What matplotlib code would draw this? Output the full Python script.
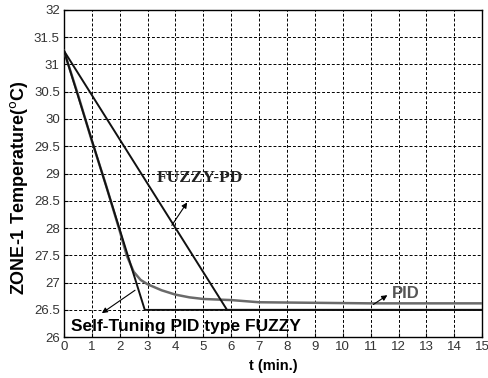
import numpy as np
import matplotlib
matplotlib.use('Agg')
from matplotlib import pyplot as plt

# zone-1 temperature responses (time in minutes, temperature in deg C)
t_stpf = [0, 2.9, 15]
T_stpf = [31.25, 26.5, 26.5]

t_fpd = [0, 5.85, 15]
T_fpd = [31.25, 26.5, 26.5]

t_pid = [0, 0.5, 1, 1.5, 2, 2.25, 2.5, 2.75, 3, 3.5, 4, 4.5, 5, 6, 7, 9, 11, 13, 15]
T_pid = [31.25, 30.45, 29.6, 28.8, 27.95, 27.5, 27.2, 27.05, 26.97, 26.86, 26.78,
         26.73, 26.70, 26.68, 26.64, 26.63, 26.62, 26.62, 26.62]

xticks = np.arange(0, 16, 1)
yticks = np.arange(26, 32.5, 0.5)

sans = ['Liberation Sans', 'DejaVu Sans']
serif = ['Liberation Serif', 'DejaVu Serif']

fig = plt.figure(figsize=(4.88, 3.78), dpi=100)
ax = fig.add_axes([0.131, 0.108, 0.857, 0.866])

ax.plot(t_pid, T_pid, color='#6a6a6a', lw=1.8, zorder=3)
ax.plot(t_fpd, T_fpd, color='#111111', lw=1.4, zorder=4)
ax.plot(t_stpf, T_stpf, color='#111111', lw=1.4, zorder=5)

ax.set_xlim(0, 15)
ax.set_ylim(26, 32)
ax.set_xticks(xticks)
ax.set_yticks(yticks)
ax.set_xticklabels([str(v) for v in xticks], family=sans, fontsize=9.5, color='#333333')
ax.set_yticklabels(['%g' % v for v in yticks], family=sans, fontsize=9.5, color='#333333')
ax.tick_params(direction='in', length=3, width=0.8, pad=3)

ax.grid(True, color='black', linestyle=(0, (3, 2)), linewidth=0.7)
for s in ax.spines.values():
    s.set_linewidth(1.0)
    s.set_color('black')

ax.set_xlabel('t (min.)', family=sans, fontsize=10.5, fontweight='bold', labelpad=4)
ax.set_ylabel(r'ZONE-1 Temperature($^{\mathrm{o}}$C)', family=sans, fontsize=13,
              fontweight='bold')
ax.yaxis.set_label_coords(-0.082, 0.456)

arrow = dict(arrowstyle='-|>', color='black', lw=0.8, mutation_scale=8,
             shrinkA=0, shrinkB=0)

ax.text(3.33, 28.85, 'FUZZY-PD', family=serif, fontsize=12.5, fontweight='bold',
        color='#222222', zorder=6)
ax.annotate('', xy=(4.42, 28.47), xytext=(3.87, 28.05), arrowprops=arrow, zorder=6)

ax.text(11.75, 26.72, 'PID', family=sans, fontsize=12, fontweight='bold',
        color='#555555', zorder=6)
ax.annotate('', xy=(11.6, 26.77), xytext=(11.1, 26.6), arrowprops=arrow, zorder=6)

ax.text(0.25, 26.2, 'Self-Tuning PID type FUZZY', family=sans, fontsize=12.5,
        fontweight='bold', color='black', va='center', zorder=6)
ax.annotate('', xy=(1.36, 26.44), xytext=(2.55, 26.86), arrowprops=arrow, zorder=6)

fig.savefig('out.png', dpi=100)
